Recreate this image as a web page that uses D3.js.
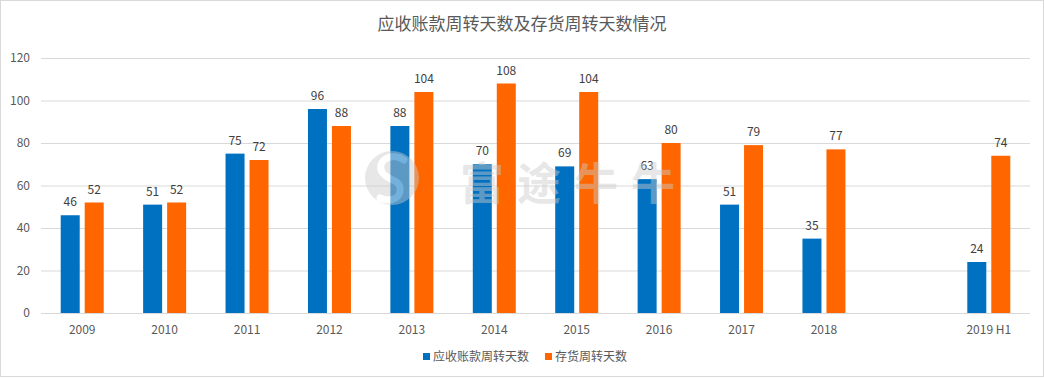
<!DOCTYPE html>
<html>
<head>
<meta charset="utf-8">
<script src="https://cdn.jsdelivr.net/npm/d3@7"></script>
<style>
  body { margin: 0; background: #fff; }
  svg { display: block; font-family: "Microsoft YaHei", "Noto Sans CJK SC", "Open Sans", sans-serif; }
</style>
</head>
<body>
<svg id="chart" width="1044" height="378"></svg>
<script>
const categories = ["2009", "2010", "2011", "2012", "2013", "2014", "2015", "2016", "2017", "2018", "", "2019 H1"];
const receivableDays = [46, 51, 75, 96, 88, 70, 69, 63, 51, 35, null, 24];
const inventoryDays = [52, 52, 72, 88, 104, 108, 104, 80, 79, 77, null, 74];
const yTicks = [0, 20, 40, 60, 80, 100, 120];
const seriesNames = ["应收账款周转天数", "存货周转天数"];
const seriesColors = ["#0070C0", "#FF6600"];

const svg = d3.select("#chart");
const width = 1044, height = 378;
const margin = { top: 58, right: 14, bottom: 65, left: 41 };

svg.append("rect")
  .attr("x", 0.5).attr("y", 0.5)
  .attr("width", width - 1).attr("height", height - 2)
  .attr("fill", "#fff").attr("stroke", "#d9d9d9");

svg.append("text")
  .attr("x", width / 2).attr("y", 30)
  .attr("text-anchor", "middle")
  .attr("fill", "#595959")
  .style("font-size", "17px")
  .text("应收账款周转天数及存货周转天数情况");

const x = d3.scaleBand().domain(d3.range(categories.length))
  .range([margin.left, width - margin.right]).paddingInner(0).paddingOuter(0);
const y = d3.scaleLinear().domain([0, 120]).range([height - margin.bottom, margin.top]);

// grid
svg.append("g").selectAll("line").data(yTicks).join("line")
  .attr("x1", margin.left).attr("x2", width - margin.right)
  .attr("y1", d => y(d) + 0.5).attr("y2", d => y(d) + 0.5)
  .attr("stroke", "#d9d9d9");

// y tick labels
svg.append("g").selectAll("text").data(yTicks).join("text")
  .attr("x", 30).attr("y", d => y(d))
  .attr("dy", "0.35em")
  .attr("text-anchor", "end")
  .attr("fill", "#595959")
  .style("font-size", "12px")
  .text(d => d);

const barW = 19, gap = 5;
const series = [receivableDays, inventoryDays];
series.forEach((vals, si) => {
  const g = svg.append("g");
  const data = vals.map((v, i) => ({ v, i })).filter(d => d.v != null);
  const bx = d => x(d.i) + x.bandwidth() / 2 - (barW * 2 + gap) / 2 + si * (barW + gap);
  g.selectAll("rect").data(data).join("rect")
    .attr("x", bx)
    .attr("y", d => y(d.v))
    .attr("width", barW)
    .attr("height", d => y(0) - y(d.v))
    .attr("fill", seriesColors[si]);
  g.selectAll("text").data(data).join("text")
    .attr("x", d => bx(d) + barW / 2)
    .attr("y", d => y(d.v) - 9)
    .attr("text-anchor", "middle")
    .attr("fill", "#404040")
    .style("font-size", "12px")
    .text(d => d.v);
});

// watermark, drawn over the bars
const wm = svg.append("g").attr("opacity", 0.45);
wm.append("circle")
  .attr("cx", 392).attr("cy", 178).attr("r", 27)
  .attr("fill", "#cccccc");
wm.append("path")
  .attr("d", "M404,160 C392,152 376,160 382,172 C388,182 402,178 400,192 C398,200 388,202 380,198")
  .attr("fill", "none").attr("stroke", "#fff").attr("stroke-width", 7).attr("stroke-linecap", "round");
wm.append("text")
  .attr("x", 460).attr("y", 200)
  .attr("fill", "#cccccc")
  .style("font-size", "44px")
  .style("font-weight", "bold")
  .style("letter-spacing", "13px")
  .text("富途牛牛");

// x labels
svg.append("g").selectAll("text").data(categories.map((c, i) => ({ c, i }))).join("text")
  .attr("x", d => x(d.i) + x.bandwidth() / 2)
  .attr("y", y(0) + 21)
  .attr("text-anchor", "middle")
  .attr("fill", "#595959")
  .style("font-size", "12px")
  .text(d => d.c);

// legend
const legendX = [423, 545];
seriesNames.forEach((name, i) => {
  svg.append("rect")
    .attr("x", legendX[i]).attr("y", 353)
    .attr("width", 7).attr("height", 7)
    .attr("fill", seriesColors[i]);
  svg.append("text")
    .attr("x", legendX[i] + 10).attr("y", 357)
    .attr("dy", "0.35em")
    .attr("fill", "#595959")
    .style("font-size", "12px")
    .text(name);
});
</script>
</body>
</html>
